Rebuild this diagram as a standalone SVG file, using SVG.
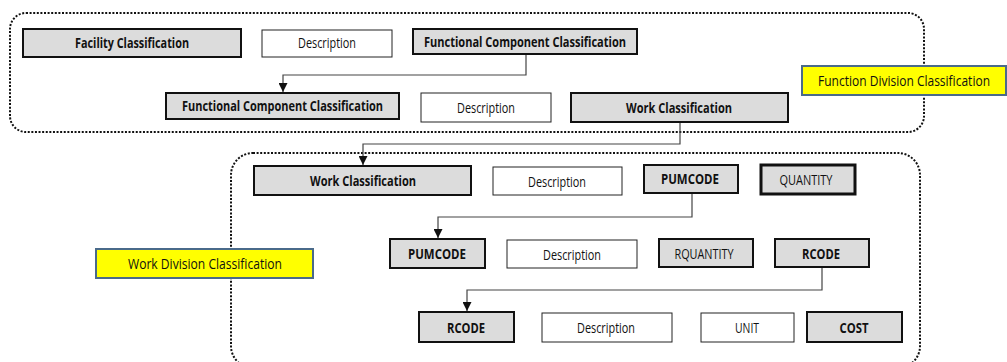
<svg xmlns="http://www.w3.org/2000/svg" width="1007" height="362" viewBox="0 0 1007 362">
<style>
.bg{fill:#ffffff}
.grp{fill:none;stroke:#111;stroke-width:2;stroke-dasharray:2 1.6}
.g{fill:#dcdcdc;stroke:#111;stroke-width:2}
.g3{fill:#dcdcdc;stroke:#111;stroke-width:3}
.w{fill:#ffffff;stroke:#222;stroke-width:1}
.y{fill:#ffff00;stroke:#4a6a8a;stroke-width:2}
text{font-family:"Open Sans","Liberation Sans",sans-serif;font-size:15px;text-anchor:middle;fill:#111}
.b{font-weight:bold}
.c{fill:none;stroke:#444;stroke-width:1.2}
</style>
<defs>
<marker id="ah" viewBox="0 0 10 10" refX="10" refY="5" markerWidth="9" markerHeight="9" markerUnits="userSpaceOnUse" orient="auto">
<path d="M0,0 L10,5 L0,10 z" fill="#111"/>
</marker>
</defs>
<rect class="bg" x="0" y="0" width="1007" height="362"/>
<g id="group-function">
<rect class="grp" x="10" y="13" width="914" height="119" rx="16"/>
</g>
<g id="group-work">
<rect class="grp" x="231" y="153" width="689" height="215" rx="22"/>
</g>
<g id="connectors">
<path class="c" d="M526,54 V75 H283 V92" marker-end="url(#ah)"/>
<path class="c" d="M680,122 V144 H363 V165" marker-end="url(#ah)"/>
<path class="c" d="M692,193 V217 H438 V238" marker-end="url(#ah)"/>
<path class="c" d="M822,267 V290 H467 V311" marker-end="url(#ah)"/>
</g>
<g id="n-facility"><rect class="g" x="23" y="29" width="218" height="28"/><text class="b" x="132" y="48" textLength="114" lengthAdjust="spacingAndGlyphs">Facility Classification</text></g>
<g id="n-desc1"><rect class="w" x="262" y="30" width="130" height="27"/><text x="327" y="48" textLength="58" lengthAdjust="spacingAndGlyphs">Description</text></g>
<g id="n-fcc1"><rect class="g" x="413" y="29" width="224" height="25"/><text class="b" x="525" y="47" textLength="202" lengthAdjust="spacingAndGlyphs">Functional Component Classification</text></g>
<g id="n-fcc2"><rect class="g" x="166" y="93" width="233" height="26"/><text class="b" x="282.5" y="111" textLength="201" lengthAdjust="spacingAndGlyphs">Functional Component Classification</text></g>
<g id="n-desc2"><rect class="w" x="421" y="93" width="130" height="29"/><text x="486" y="113" textLength="58" lengthAdjust="spacingAndGlyphs">Description</text></g>
<g id="n-work1"><rect class="g" x="571" y="93" width="217" height="29"/><text class="b" x="679" y="113" textLength="106" lengthAdjust="spacingAndGlyphs">Work Classification</text></g>
<g id="n-fdc"><rect class="y" x="802" y="66" width="204" height="29"/><text x="904" y="86" textLength="172" lengthAdjust="spacingAndGlyphs">Function Division Classification</text></g>
<g id="n-work2"><rect class="g" x="254" y="166" width="217" height="29"/><text class="b" x="363" y="186" textLength="106" lengthAdjust="spacingAndGlyphs">Work Classification</text></g>
<g id="n-desc3"><rect class="w" x="493" y="167" width="129" height="28"/><text x="557" y="187" textLength="58" lengthAdjust="spacingAndGlyphs">Description</text></g>
<g id="n-pum1"><rect class="g" x="644" y="165" width="94" height="28"/><text class="b" x="690" y="184" textLength="58" lengthAdjust="spacingAndGlyphs">PUMCODE</text></g>
<g id="n-qty"><rect class="g3" x="761" y="165" width="94" height="29"/><text x="806" y="185" textLength="53" lengthAdjust="spacingAndGlyphs">QUANTITY</text></g>
<g id="n-wdc"><rect class="y" x="96" y="249" width="217" height="29"/><text x="205" y="269" textLength="154" lengthAdjust="spacingAndGlyphs">Work Division Classification</text></g>
<g id="n-pum2"><rect class="g" x="390" y="239" width="95" height="29"/><text class="b" x="437" y="259" textLength="58" lengthAdjust="spacingAndGlyphs">PUMCODE</text></g>
<g id="n-desc4"><rect class="w" x="507" y="240" width="130" height="28"/><text x="572" y="260" textLength="58" lengthAdjust="spacingAndGlyphs">Description</text></g>
<g id="n-rqty"><rect class="g" x="659" y="239" width="94" height="28"/><text x="704" y="259" textLength="59" lengthAdjust="spacingAndGlyphs">RQUANTITY</text></g>
<g id="n-rcode1"><rect class="g" x="775" y="239" width="94" height="28"/><text class="b" x="821" y="259" textLength="38" lengthAdjust="spacingAndGlyphs">RCODE</text></g>
<g id="n-rcode2"><rect class="g" x="419" y="312" width="95" height="30"/><text class="b" x="466" y="333" textLength="38" lengthAdjust="spacingAndGlyphs">RCODE</text></g>
<g id="n-desc5"><rect class="w" x="542" y="313" width="130" height="29"/><text x="606" y="333" textLength="58" lengthAdjust="spacingAndGlyphs">Description</text></g>
<g id="n-unit"><rect class="w" x="701" y="313" width="93" height="29"/><text x="747" y="333" textLength="24" lengthAdjust="spacingAndGlyphs">UNIT</text></g>
<g id="n-cost"><rect class="g" x="807" y="312" width="95" height="30"/><text class="b" x="854" y="333" textLength="29" lengthAdjust="spacingAndGlyphs">COST</text></g>
</svg>
